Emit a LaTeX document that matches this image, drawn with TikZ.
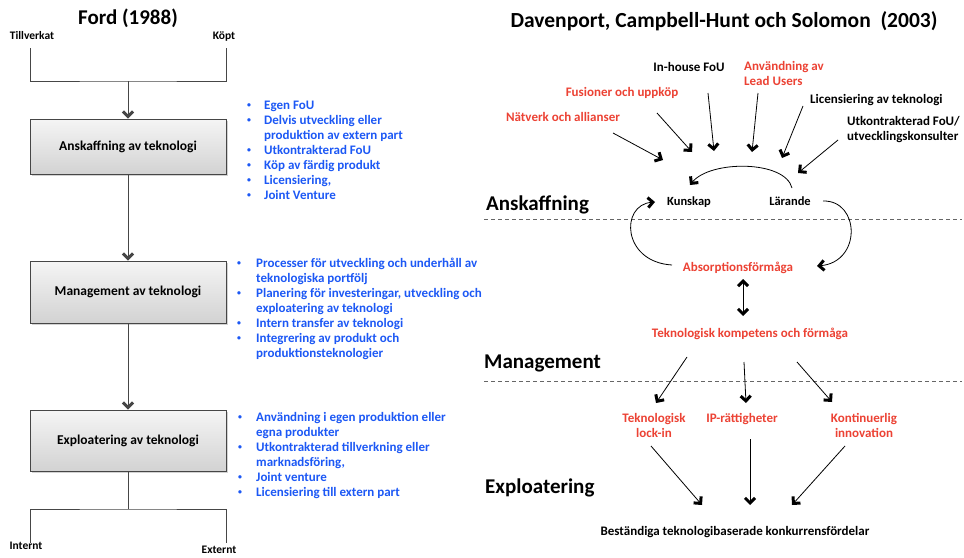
\documentclass[tikz,border=0pt]{standalone}
\usepackage{fontspec}
\usepackage{graphicx}
\setmainfont{Carlito}
\usetikzlibrary{arrows.meta,shadows}

\definecolor{listblue}{RGB}{28,88,245}
\definecolor{labelred}{RGB}{236,66,52}
\definecolor{boxline}{RGB}{70,70,70}

% small bullet for the lists
\newcommand{\lb}{\raisebox{0.15em}{\scalebox{0.6}{\textbullet}}}

\tikzset{
  every node/.style={font=\bfseries, inner sep=0pt},
  txt/.style={font=\fontsize{13}{15}\selectfont\bfseries},
  small/.style={font=\fontsize{11.5}{14}\selectfont\bfseries},
  head/.style={font=\fontsize{21}{25}\selectfont\bfseries},
  redtxt/.style={txt, text=labelred},
  bluelist/.style={txt, text=listblue, anchor=base west},
  stagebox/.style={draw=boxline, line width=0.9pt, minimum width=196pt,
    top color=gray!8, bottom color=gray!35,
    drop shadow={shadow xshift=2pt, shadow yshift=-2pt, opacity=0.35},
    font=\fontsize{13.5}{16}\selectfont\bfseries},
  flow/.style={draw=boxline, line width=1pt},
  barb/.tip={Straight Barb[length=5pt,width=10pt,line width=3pt 0 1]},
  tip/.style={-barb},
  arr/.style={draw=black, line width=0.8pt, tip},
  darr/.style={draw=black, line width=0.8pt, barb-barb},
  divider/.style={draw=gray!80!black, line width=0.8pt, dash pattern=on 4pt off 3pt},
}

\begin{document}
\begin{tikzpicture}[x=1pt,y=-1pt]
\useasboundingbox[fill=white] (0,0) rectangle (964,557);

% ---------------- Ford (1988) ----------------
\node[head, anchor=base] (fordtitle) at (128,24) {Ford (1988)};
\node[small, anchor=base] (tillv) at (32,39) {Tillverkat};
\node[small, anchor=base] (kopt) at (224,39) {Köpt};

\node[stagebox, minimum height=55pt] (ansk) at (128,146.5) {Anskaffning av teknologi};
\node[stagebox, minimum height=62pt] (mgmt) at (128,292) {Management av teknologi};
\node[stagebox, minimum height=61pt] (expl) at (128,440.5) {Exploatering av teknologi};

\coordinate (tl) at (30,48);
\coordinate (tr) at (226,48);
\coordinate (tm) at (128,81);
\draw[flow] (tl) |- (tm) -| (tr);
\draw[flow, tip] (tm) -- (ansk.north);
\draw[flow, tip] (ansk.south) -- (mgmt.north);
\draw[flow, tip] (mgmt.south) -- (expl.north);

\coordinate (bm) at (128,509);
\coordinate (bl) at (30,543);
\coordinate (br) at (226,543);
\draw[flow] (expl.south) -- (bm);
\draw[flow] (bl) |- (bm) -| (br);
\node[small, anchor=base] (intern) at (26,549) {Internt};
\node[small, anchor=base] (extern) at (219,553) {Externt};

\node[bluelist] (list1) at (247,109) {%
\begin{tabular}[t]{@{}p{17pt}@{}l@{}}
\lb & Egen FoU\\
\lb & Delvis utveckling eller\\
    & produktion av extern part\\
\lb & Utkontrakterad FoU\\
\lb & Köp av färdig produkt\\
\lb & Licensiering,\\
\lb & Joint Venture
\end{tabular}};

\node[bluelist] (list2) at (237,267) {%
\begin{tabular}[t]{@{}p{19pt}@{}l@{}}
\lb & Processer för utveckling och underhåll av\\
    & teknologiska portfölj\\
\lb & Planering för investeringar, utveckling och\\
    & exploatering av teknologi\\
\lb & Intern transfer av teknologi\\
\lb & Integrering av produkt och\\
    & produktionsteknologier
\end{tabular}};

\node[bluelist] (list3) at (238,421) {%
\begin{tabular}[t]{@{}p{18pt}@{}l@{}}
\lb & Användning i egen produktion eller\\
    & egna produkter\\
\lb & Utkontrakterad tillverkning eller\\
    & marknadsföring,\\
\lb & Joint venture\\
\lb & Licensiering till extern part
\end{tabular}};

% ---------------- Davenport, Campbell-Hunt och Solomon (2003) ----------------
\node[head, anchor=base, font=\fontsize{21.5}{25}\selectfont\bfseries] (davtitle) at (724,27) {Davenport, Campbell-Hunt och Solomon\ \ (2003)};

\node[txt, anchor=base] (inhouse) at (689,71) {In-house FoU};
\node[redtxt, anchor=base west] (leadusers) at (744,70) {%
\begin{tabular}[t]{@{}l@{}}Användning av\\ Lead Users\end{tabular}};
\node[redtxt, anchor=base] (fusioner) at (622,96) {Fusioner och uppköp};
\node[redtxt, anchor=base] (natverk) at (563,121) {Nätverk och allianser};
\node[txt, anchor=base west] (licens) at (810,103) {Licensiering av teknologi};
\node[txt, anchor=base west] (utkontr) at (847,125) {%
\begin{tabular}[t]{@{}l@{}}Utkontrakterad FoU/\\ utvecklingskonsulter\end{tabular}};

\node[txt, anchor=base, font=\fontsize{12.5}{15}\selectfont\bfseries] (kunskap) at (689,205) {Kunskap};
\node[txt, anchor=base, font=\fontsize{12.5}{15}\selectfont\bfseries] (larande) at (790,205) {Lärande};
\node[redtxt, anchor=base] (absorb) at (738,271) {Absorptionsförmåga};
\node[redtxt, anchor=base] (kompetens) at (750,337) {Teknologisk kompetens och förmåga};

\node[redtxt, anchor=base] (lockin) at (654,422) {%
\begin{tabular}[t]{@{}c@{}}Teknologisk\\ lock-in\end{tabular}};
\node[redtxt, anchor=base] (iprights) at (742,422) {IP-rättigheter};
\node[redtxt, anchor=base] (kontin) at (864,422) {%
\begin{tabular}[t]{@{}c@{}}Kontinuerlig\\ innovation\end{tabular}};
\node[txt, anchor=base] (bestand) at (735,535) {Beständiga teknologibaserade konkurrensfördelar};

\node[head, anchor=base west] (secansk) at (486,210) {Anskaffning};
\node[head, anchor=base west] (secmgmt) at (484,368) {Management};
\node[head, anchor=base west] (secexpl) at (485,493) {Exploatering};

% phase dividers
\coordinate (d1l) at (484,219);
\coordinate (d1r) at (962,219);
\coordinate (d2l) at (484,381);
\coordinate (d2r) at (962,381);
\draw[divider] (d1l) -- (d1r);
\draw[divider] (d2l) -- (d2r);

% sources of knowledge converging on the learning cycle
\coordinate (s1) at (613,133); \coordinate (e1) at (663,160);
\coordinate (s2) at (657,113); \coordinate (e2) at (692,152);
\coordinate (s3) at (708,93);  \coordinate (e3) at (714,151);
\coordinate (s4) at (758,93);  \coordinate (e4) at (752,152);
\coordinate (s5) at (803,106); \coordinate (e5) at (782,158);
\coordinate (s6) at (838,140); \coordinate (e6) at (798,173);
\draw[arr] (s1) -- (e1);
\draw[arr] (s2) -- (e2);
\draw[arr] (s3) -- (e3);
\draw[arr] (s4) -- (e4);
\draw[arr] (s5) -- (e5);
\draw[arr] (s6) -- (e6);

% learning cycle
\coordinate (la) at (792,188); \coordinate (ka) at (690,185);
\draw[arr] (la) .. controls (785,160) and (710,160) .. (ka);
\coordinate (ab1) at (672,265); \coordinate (ku1) at (655,202);
\draw[arr] (ab1) .. controls (622,262) and (620,205) .. (ku1);
\coordinate (la2) at (823,201); \coordinate (ab2) at (817,266);
\draw[arr] (la2) .. controls (860,200) and (862,262) .. (ab2);

\coordinate (da1) at (743,279); \coordinate (da2) at (743,316);
\draw[darr] (da1) -- (da2);

% management to outcomes
\coordinate (m1) at (687,357); \coordinate (o1) at (656,403);
\coordinate (m2) at (744,362); \coordinate (o2) at (746,403);
\coordinate (m3) at (797,362); \coordinate (o3) at (832,402);
\draw[arr] (m1) -- (o1);
\draw[arr] (m2) -- (o2);
\draw[arr] (m3) -- (o3);

% outcomes to sustained advantage
\coordinate (q1) at (651,446); \coordinate (r1) at (702,505);
\coordinate (q2) at (750,439); \coordinate (r2) at (750,505);
\coordinate (q3) at (845,446); \coordinate (r3) at (792,505);
\draw[arr] (q1) -- (r1);
\draw[arr] (q2) -- (r2);
\draw[arr] (q3) -- (r3);
\end{tikzpicture}
\end{document}
